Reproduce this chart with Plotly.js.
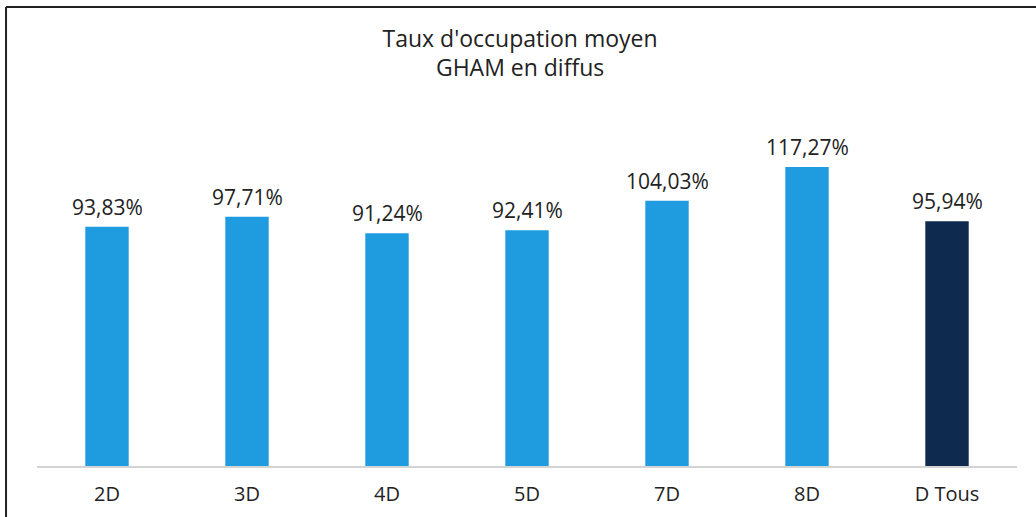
<!DOCTYPE html>
<html>
<head>
<meta charset="utf-8">
<script src="https://cdn.plot.ly/plotly-3.0.1.min.js"></script>
<style>
html,body{margin:0;padding:0;background:#fff;overflow:hidden;}
#chart{width:1036px;height:517px;}
</style>
</head>
<body>
<div id="chart"></div>
<script>
const categories = ["2D", "3D", "4D", "5D", "7D", "8D", "D Tous"];
const values = [93.83, 97.71, 91.24, 92.41, 104.03, 117.27, 95.94];
const labels = ["93,83%", "97,71%", "91,24%", "92,41%", "104,03%", "117,27%", "95,94%"];
const barColors = ["#1f9be0", "#1f9be0", "#1f9be0", "#1f9be0", "#1f9be0", "#1f9be0", "#0f2a4f"];

const FONT = "'Open Sans', Lato, sans-serif";

const trace = {
  type: "bar",
  x: categories,
  y: values,
  marker: {color: barColors},
  hoverinfo: "none"
};

const annotations = categories.map((c, i) => ({
  x: c, y: values[i], xref: "x", yref: "y",
  text: labels[i], showarrow: false,
  yanchor: "bottom", yshift: 4,
  font: {family: FONT, size: 21, color: "#222"}
}));

const layout = {
  width: 1036,
  height: 517,
  margin: {l: 37, r: 19, t: 100, b: 51},
  paper_bgcolor: "#fff",
  plot_bgcolor: "#fff",
  bargap: 0.69,
  showlegend: false,
  annotations: annotations,
  shapes: [
    {type: "line", xref: "paper", yref: "paper", x0: -0.0316, x1: 1.05, y0: 1.254, y1: 1.254, line: {color: "#222", width: 2}},
    {type: "line", xref: "paper", yref: "paper", x0: -0.0316, x1: -0.0316, y0: 1.254, y1: -0.2, line: {color: "#222", width: 2}}
  ],
  title: {
    text: "Taux d'occupation moyen<br>GHAM en diffus",
    x: 0.502, xanchor: "center",
    y: 0.91, yanchor: "top",
    font: {family: FONT, size: 23, color: "#222"}
  },
  xaxis: {
    type: "category",
    showline: true,
    linecolor: "#d4d4d4",
    linewidth: 1.5,
    ticks: "",
    ticklabelstandoff: 9,
    tickfont: {family: FONT, size: 20, color: "#222"},
    showgrid: false,
    zeroline: false
  },
  yaxis: {
    range: [0, 143.5],
    visible: false,
    showgrid: false,
    zeroline: false
  }
};

Plotly.newPlot("chart", [trace], layout, {displayModeBar: false, staticPlot: true});
</script>
</body>
</html>
